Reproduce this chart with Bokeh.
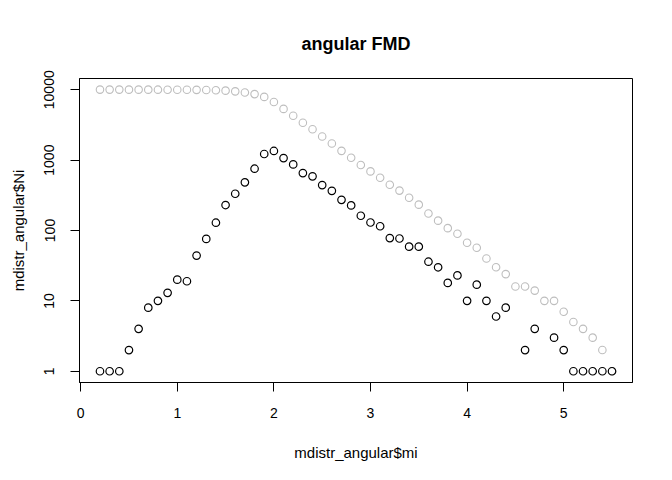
from bokeh.plotting import figure
from bokeh.models import Range1d, FixedTicker, ColumnDataSource
from bokeh.embed import file_html
from bokeh.resources import INLINE

# magnitude bins
mi = [0.2, 0.3, 0.4, 0.5, 0.6, 0.7, 0.8, 0.9, 1.0, 1.1, 1.2, 1.3, 1.4, 1.5,
      1.6, 1.7, 1.8, 1.9, 2.0, 2.1, 2.2, 2.3, 2.4, 2.5, 2.6, 2.7, 2.8, 2.9,
      3.0, 3.1, 3.2, 3.3, 3.4, 3.5, 3.6, 3.7, 3.8, 3.9, 4.0, 4.1, 4.2, 4.3,
      4.4, 4.5, 4.6, 4.7, 4.8, 4.9, 5.0, 5.1, 5.2, 5.3, 5.4, 5.5]
# non-cumulative counts (0 = not drawn on log axis)
Ni = [1, 1, 1, 2, 4, 8, 10, 13, 20, 19, 44, 76, 129, 230,
      333, 483, 755, 1222, 1350, 1070, 870, 655, 589, 442, 366, 273, 227, 162,
      130, 115, 78, 77, 59, 59, 36, 30, 18, 23, 10, 17, 10, 6,
      8, 0, 2, 4, 0, 3, 2, 1, 1, 1, 1, 1]
# cumulative counts
Nc = [10047, 10046, 10045, 10044, 10042, 10038, 10030, 10020, 10007, 9987, 9968, 9924, 9848, 9719,
      9489, 9156, 8673, 7918, 6696, 5346, 4276, 3406, 2751, 2162, 1720, 1354, 1081, 854,
      692, 562, 447, 369, 292, 233, 174, 138, 108, 90, 67, 57, 40, 30,
      24, 16, 16, 14, 10, 10, 7, 5, 4, 3, 2, 1]

x_ticks = [0, 1, 2, 3, 4, 5]
y_ticks = [1, 10, 100, 1000, 10000]
y_tick_labels = ["1", "10", "100", "1000", "10000"]

FONT = "Liberation Sans"

p = figure(width=664, height=472, output_backend="svg", toolbar_location=None,
           y_axis_type="log", x_range=Range1d(-0.012, 5.712),
           y_range=Range1d(10 ** -0.16, 10 ** 4.16),
           min_border_left=79, min_border_right=32, min_border_top=78, min_border_bottom=90)

p.title.text = "angular FMD"
p.title.align = "center"
p.title.text_font = FONT
p.title.text_font_size = "18px"
p.title.text_font_style = "bold"
p.title.text_color = "black"
p.title.standoff = 50

p.grid.visible = False
p.outline_line_color = "black"
p.outline_line_width = 1
p.background_fill_color = "white"
p.border_fill_color = "white"

nz = [i for i, v in enumerate(Ni) if v > 0]
src_i = ColumnDataSource(dict(x=[mi[i] for i in nz], y=[Ni[i] for i in nz]))
src_c = ColumnDataSource(dict(x=mi, y=Nc))

p.scatter("x", "y", source=src_c, marker="circle", size=7.5, fill_color=None,
          line_color="#bebebe", line_width=1.1)
p.scatter("x", "y", source=src_i, marker="circle", size=7.5, fill_color=None,
          line_color="black", line_width=1.2)

for ax in (p.xaxis[0], p.yaxis[0]):
    ax.axis_line_color = "black"
    ax.major_tick_line_color = "black"
    ax.major_tick_out = 9
    ax.major_tick_in = 0
    ax.minor_tick_line_color = None
    ax.major_label_text_font = FONT
    ax.major_label_text_font_size = "14px"
    ax.major_label_text_color = "black"
    ax.axis_label_text_font = FONT
    ax.axis_label_text_font_size = "15px"
    ax.axis_label_text_font_style = "normal"
    ax.axis_label_text_color = "black"

p.xaxis.ticker = FixedTicker(ticks=x_ticks)
p.xaxis.axis_label = "mdistr_angular$mi"
p.xaxis.major_label_standoff = 16
p.xaxis.axis_label_standoff = 23

p.yaxis.ticker = FixedTicker(ticks=y_ticks)
p.yaxis.major_label_overrides = {t: l for t, l in zip(y_ticks, y_tick_labels)}
p.yaxis.major_label_orientation = "vertical"
p.yaxis.axis_label = "mdistr_angular$Ni"
p.yaxis.major_label_standoff = 16
p.yaxis.axis_label_standoff = 15

open("out.html", "w").write(file_html(p, INLINE))
